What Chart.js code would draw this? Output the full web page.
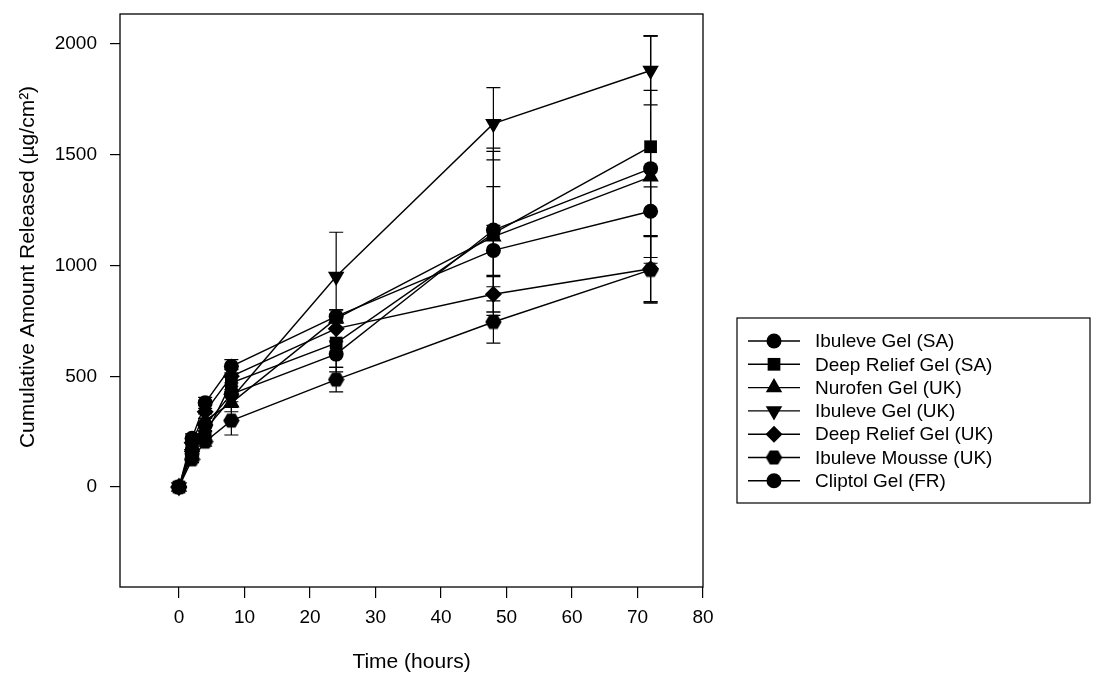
<!DOCTYPE html>
<html lang="en">
<head>
    <meta charset="UTF-8">
    <title>Cumulative Amount Released</title>
    <script src="https://cdn.jsdelivr.net/npm/chart.js"></script>
    <style type="text/css">
        body{
            margin: 0;
            background: #fff;
        }
        #wrap{
            position: relative;
            width: 1100px;
            height: 677px;
        }
    </style>
</head>
<body>
    <div id="wrap"><canvas id="releaseChart" width="1100" height="677"></canvas></div>

    <script>
        // sampling times (hours)
        const times = [0, 2, 4, 8, 24, 48, 72];
        const xTicks = [0, 10, 20, 30, 40, 50, 60, 70, 80];
        const yTicks = [0, 500, 1000, 1500, 2000];

        // cumulative amount released (ug/cm2) and error bars
        const ibuleveSA = [0, 150, 280, 420, 600, 1160, 1437];
        const errIbuleveSA = [0, 20, 30, 35, 60, 370, 600];
        const deepReliefSA = [0, 170, 230, 470, 650, 1145, 1536];
        const errDeepReliefSA = [0, 20, 25, 40, 130, 370, 500];
        const nurofenUK = [0, 180, 300, 380, 760, 1130, 1400];
        const errNurofenUK = [0, 20, 30, 40, 40, 226, 390];
        const ibuleveUK = [0, 150, 260, 400, 950, 1640, 1880];
        const errIbuleveUK = [0, 25, 30, 40, 200, 163, 155];
        const deepReliefUK = [0, 200, 340, 500, 715, 870, 985];
        const errDeepReliefUK = [0, 20, 30, 30, 60, 80, 150];
        const mousseUK = [0, 125, 205, 300, 485, 745, 980];
        const errMousseUK = [0, 15, 20, 65, 55, 95, 150];
        const cliptolFR = [0, 220, 380, 545, 770, 1068, 1245];
        const errCliptolFR = [0, 20, 25, 30, 30, 113, 110];

        const yTitle = 'Cumulative Amount Released (µg/cm²)';

        // hexagon marker (no built-in style for it)
        const hexMarker = document.createElement('canvas');
        hexMarker.width = 17;
        hexMarker.height = 17;
        (function() {
            const c = hexMarker.getContext('2d');
            c.fillStyle = '#000';
            c.beginPath();
            for (let i = 0; i < 6; i++) {
                const a = Math.PI / 3 * i;
                const px = 8.5 + 8.2 * Math.cos(a);
                const py = 8.5 + 8.2 * Math.sin(a);
                if (i === 0) c.moveTo(px, py); else c.lineTo(px, py);
            }
            c.closePath();
            c.fill();
        })();

        function series(label, values, errs, style, radius, rotation) {
            return {
                label: label,
                data: times.map((t, i) => ({x: t, y: values[i]})),
                errors: errs,
                borderColor: '#000',
                backgroundColor: '#000',
                borderWidth: 1.4,
                pointStyle: style,
                pointRadius: radius,
                pointHoverRadius: radius,
                pointRotation: rotation || 0,
                pointBorderWidth: 0,
                showLine: true,
                tension: 0
            };
        }

        const datasets = [
            series('Ibuleve Gel (SA)', ibuleveSA, errIbuleveSA, 'circle', 7.5),
            series('Deep Relief Gel (SA)', deepReliefSA, errDeepReliefSA, 'rect', 9),
            series('Nurofen Gel (UK)', nurofenUK, errNurofenUK, 'triangle', 9.5),
            series('Ibuleve Gel (UK)', ibuleveUK, errIbuleveUK, 'triangle', 9.5, 180),
            series('Deep Relief Gel (UK)', deepReliefUK, errDeepReliefUK, 'rectRot', 8.5),
            series('Ibuleve Mousse (UK)', mousseUK, errMousseUK, hexMarker, 8.5),
            series('Cliptol Gel (FR)', cliptolFR, errCliptolFR, 'circle', 7.5)
        ];

        // error bars, plot frame, y title and boxed legend
        const extras = {
            id: 'extras',
            beforeDatasetsDraw(chart) {
                const ctx = chart.ctx;
                const xs = chart.scales.x, ys = chart.scales.y;
                ctx.save();
                ctx.strokeStyle = '#000';
                ctx.lineWidth = 1.2;
                chart.data.datasets.forEach(ds => {
                    ds.data.forEach((p, i) => {
                        const e = ds.errors[i];
                        if (!e) return;
                        const x = xs.getPixelForValue(p.x);
                        const y1 = ys.getPixelForValue(p.y - e);
                        const y2 = ys.getPixelForValue(p.y + e);
                        ctx.beginPath();
                        ctx.moveTo(x, y1); ctx.lineTo(x, y2);
                        ctx.moveTo(x - 7, y1); ctx.lineTo(x + 7, y1);
                        ctx.moveTo(x - 7, y2); ctx.lineTo(x + 7, y2);
                        ctx.stroke();
                    });
                });
                ctx.restore();
            },
            afterDraw(chart) {
                const ctx = chart.ctx;
                const a = chart.chartArea;
                ctx.save();
                ctx.strokeStyle = '#000';
                ctx.lineWidth = 1.3;
                ctx.strokeRect(a.left, a.top, a.right - a.left, a.bottom - a.top);

                // y axis title (sits a bit above the plot centre in the original)
                ctx.save();
                ctx.translate(28, 267);
                ctx.rotate(-Math.PI / 2);
                ctx.font = '21px "Liberation Sans", Arial, sans-serif';
                ctx.fillStyle = '#000';
                ctx.textAlign = 'center';
                ctx.textBaseline = 'middle';
                ctx.fillText(yTitle, 0, 0);
                ctx.restore();

                // legend
                const lx = 737, ly = 318, lw = 353, lh = 185;
                ctx.lineWidth = 1.2;
                ctx.strokeRect(lx, ly, lw, lh);
                ctx.font = '19px "Liberation Sans", Arial, sans-serif';
                ctx.textBaseline = 'middle';
                ctx.fillStyle = '#000';
                chart.data.datasets.forEach((ds, i) => {
                    const y = ly + 23 + i * 23.3;
                    ctx.lineWidth = 1.4;
                    ctx.beginPath();
                    ctx.moveTo(lx + 11, y); ctx.lineTo(lx + 63, y);
                    ctx.stroke();
                    Chart.helpers.drawPoint(ctx, {
                        pointStyle: ds.pointStyle,
                        radius: ds.pointRadius,
                        rotation: ds.pointRotation,
                        borderWidth: 0
                    }, lx + 37, y);
                    ctx.fillText(ds.label, lx + 78, y + 1);
                });
                ctx.restore();
            }
        };

        const tickFont = {family: '"Liberation Sans", Arial, sans-serif', size: 19};
        const titleFont = {family: '"Liberation Sans", Arial, sans-serif', size: 21};

        window.onload = function() {
            new Chart(document.getElementById('releaseChart'), {
                type: 'scatter',
                data: {datasets: datasets},
                options: {
                    responsive: false,
                    animation: false,
                    events: [],
                    layout: {padding: {left: 0, right: 397, top: 14, bottom: 0}},
                    plugins: {
                        legend: {display: false},
                        tooltip: {enabled: false}
                    },
                    scales: {
                        x: {
                            type: 'linear',
                            min: -9,
                            max: 80,
                            afterBuildTicks: s => { s.ticks = xTicks.map(v => ({value: v})); },
                            afterFit: s => { s.height = 90; s.paddingLeft = 0; s.paddingRight = 0; },
                            border: {display: false},
                            grid: {drawOnChartArea: false, tickLength: 11, color: '#000', lineWidth: 1.2},
                            ticks: {color: '#000', font: tickFont, padding: 8, maxRotation: 0, callback: v => String(v)},
                            title: {display: true, text: 'Time (hours)', color: '#000', font: titleFont, padding: {top: 0, bottom: 2}}
                        },
                        y: {
                            min: -451,
                            max: 2135,
                            afterBuildTicks: s => { s.ticks = yTicks.map(v => ({value: v})); },
                            afterFit: s => { s.width = 120; s.paddingTop = 0; s.paddingBottom = 0; },
                            border: {display: false},
                            grid: {drawOnChartArea: false, tickLength: 10, color: '#000', lineWidth: 1.2},
                            ticks: {color: '#000', font: tickFont, padding: 13, callback: v => String(v)}
                        }
                    }
                },
                plugins: [extras]
            });
        };
    </script>
</body>
</html>
